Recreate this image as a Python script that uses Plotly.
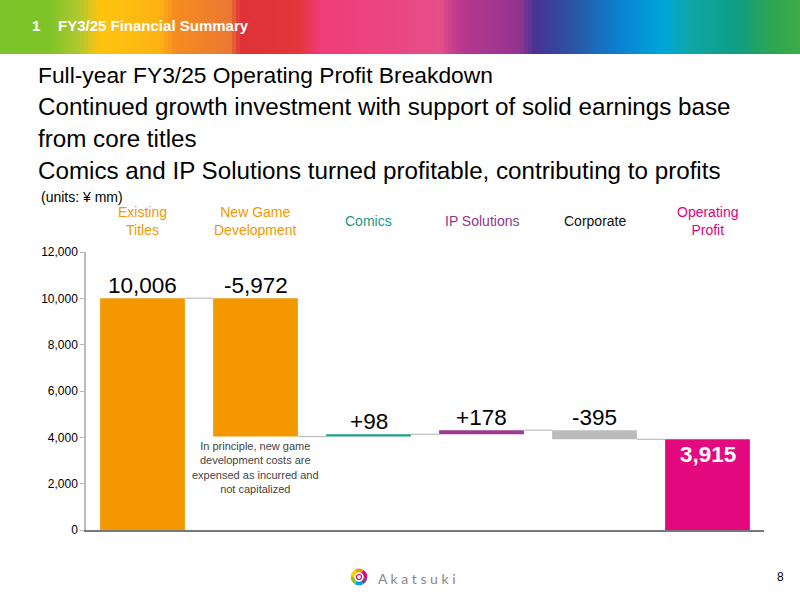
import math
import plotly.graph_objects as go

categories = ["Existing Titles", "New Game Development", "Comics", "IP Solutions", "Corporate", "Operating Profit"]
cat_labels = ["Existing<br>Titles", "New Game<br>Development", "Comics", "IP Solutions", "Corporate", "Operating<br>Profit"]
values = [10006, -5972, 98, 178, -395, 3915]
kinds = ["absolute", "relative", "relative", "relative", "relative", "total"]
value_labels = ["10,006", "-5,972", "+98", "+178", "-395", "3,915"]
bar_colors = ["#F39800", "#F39800", "#1AA08A", "#9B3A94", "#BBBBBB", "#E5097F"]
label_colors = ["#F39800", "#F39800", "#179C83", "#93358E", "#111111", "#E5007F"]
y_ticks = [0, 2000, 4000, 6000, 8000, 10000, 12000]

FONT = "Liberation Sans, Arial, sans-serif"

# compute waterfall bases
bases, levels = [], []
cum = 0
for v, k in zip(values, kinds):
    if k == "absolute":
        b, cum = 0, v
    elif k == "total":
        b = 0
    else:
        b = cum if v >= 0 else cum + v
        cum += v
    bases.append(b)
    levels.append(cum)
bar_heights = [abs(v) if k == "relative" else v for v, k in zip(values, kinds)]

fig = go.Figure()
fig.add_trace(go.Bar(
    x=categories, y=bar_heights, base=bases, width=0.75,
    marker=dict(color=bar_colors, line=dict(width=0)),
    hoverinfo="skip", showlegend=False))

# layout geometry (pixels)
L, R, T, B = 86, 36, 252, 70
W, H = 800 - L - R, 600 - T - B

def px(xp):
    return (xp - L) / W

def py(yp):
    return (600 - B - yp) / H

shapes = []
annotations = []

# connectors
bw = 0.75
for i in range(len(categories) - 1):
    shapes.append(dict(type="line", xref="x", yref="y",
                       x0=i + bw / 2, x1=i + 1 - bw / 2, y0=levels[i], y1=levels[i],
                       line=dict(color="#BDBDBD", width=1.2)))

# value labels
for i, (lab, b, h) in enumerate(zip(value_labels, bases, bar_heights)):
    top = b + h
    if kinds[i] == "total":
        annotations.append(dict(x=categories[i], y=top, xref="x", yref="y", text="<b>" + lab + "</b>",
                                showarrow=False, yanchor="top", yshift=-1,
                                font=dict(family=FONT, size=22.5, color="white")))
    else:
        annotations.append(dict(x=categories[i], y=top, xref="x", yref="y", text=lab,
                                showarrow=False, yanchor="bottom", yshift=-2,
                                font=dict(family=FONT, size=22.5, color="black")))

# category labels above plot
for i, (lab, col) in enumerate(zip(cat_labels, label_colors)):
    annotations.append(dict(x=categories[i], y=py(221), xref="x", yref="paper", text=lab,
                            showarrow=False, yanchor="middle",
                            font=dict(family=FONT, size=14, color=col)))

# note under New Game Development
annotations.append(dict(x=categories[1], y=py(438), xref="x", yref="paper",
                        text="In principle, new game<br>development costs are<br>expensed as incurred and<br>not capitalized",
                        showarrow=False, yanchor="top", align="center",
                        font=dict(family=FONT, size=11, color="#444444")))

# titles
titles = ["Full-year FY3/25 Operating Profit Breakdown",
          "Continued growth investment with support of solid earnings base",
          "from core titles",
          "Comics and IP Solutions turned profitable, contributing to profits"]
title_sizes = [22.8, 24.2, 24.2, 24.2]
for j, t in enumerate(titles):
    annotations.append(dict(x=px(36), y=py(75 + j * 31.7), xref="paper", yref="paper", text=t,
                            showarrow=False, xanchor="left", yanchor="middle",
                            font=dict(family=FONT, size=title_sizes[j], color="black")))
annotations.append(dict(x=px(39), y=py(197), xref="paper", yref="paper", text="(units: ¥ mm)",
                        showarrow=False, xanchor="left", yanchor="middle",
                        font=dict(family=FONT, size=14, color="black")))

# header band gradient
stops = [(0, (124, 196, 42)), (50, (126, 196, 40)), (80, (175, 200, 48)), (100, (255, 196, 14)),
         (160, (252, 178, 20)), (175, (246, 140, 30)), (230, (236, 120, 52)), (240, (222, 50, 56)),
         (300, (226, 54, 60)), (320, (240, 60, 120)), (440, (230, 78, 136)), (460, (186, 56, 142)),
         (520, (146, 52, 144)), (535, (72, 50, 148)), (580, (40, 90, 170)), (620, (10, 130, 210)),
         (665, (0, 166, 218)), (690, (14, 166, 168)), (740, (16, 158, 130)), (770, (44, 166, 84)),
         (800, (60, 172, 72))]

def col_at(x):
    for (x0, c0), (x1, c1) in zip(stops[:-1], stops[1:]):
        if x0 <= x <= x1:
            t = (x - x0) / (x1 - x0) if x1 > x0 else 0
            return "rgb(%d,%d,%d)" % tuple(round(a + (b - a) * t) for a, b in zip(c0, c1))
    return "rgb(60,172,72)"

step = 4
for xs in range(0, 800, step):
    shapes.append(dict(type="rect", xref="paper", yref="paper", layer="below",
                       x0=px(xs), x1=px(xs + step + 0.5), y0=py(54), y1=py(0),
                       fillcolor=col_at(xs + step / 2), line=dict(width=0)))
HFONT = "Liberation Sans Narrow, Liberation Sans"
annotations.append(dict(x=px(30), y=py(26), xref="paper", yref="paper", text="<b>1</b>",
                        showarrow=False, xanchor="left", yanchor="middle",
                        font=dict(family=HFONT, size=15, color="white")))
annotations.append(dict(x=px(56), y=py(26), xref="paper", yref="paper", text="<b>FY3/25 Financial Summary</b>",
                        showarrow=False, xanchor="left", yanchor="middle",
                        font=dict(family=HFONT, size=15, color="white")))

# footer logo
cx, cy, r = 359, 577, 6.5
ring_cols = ["#E4007F", "#F39800", "#FFD100", "#8FC31F", "#00A0E9", "#7C3E97"]
n = len(ring_cols)
for k, c in enumerate(ring_cols):
    a0 = 2 * math.pi * k / n
    a1 = 2 * math.pi * (k + 1) / n
    pts = []
    for s in range(9):
        a = a0 + (a1 - a0) * s / 8
        pts.append((px(cx + r * math.cos(a)), py(cy - r * math.sin(a))))
    path = "M " + " L ".join("%f,%f" % p for p in pts)
    shapes.append(dict(type="path", xref="paper", yref="paper", path=path,
                       line=dict(color=c, width=3.5)))
shapes.append(dict(type="circle", xref="paper", yref="paper",
                   x0=px(cx - 2.5), x1=px(cx + 2.5), y0=py(cy + 2.5), y1=py(cy - 2.5),
                   line=dict(color="#E4007F", width=1.2), fillcolor="white"))
annotations.append(dict(x=px(376), y=py(578), xref="paper", yref="paper",
                        text="A k a t s u k i", showarrow=False, xanchor="left", yanchor="middle",
                        font=dict(family="Lato, Liberation Sans", size=14, color="#888888")))
annotations.append(dict(x=px(786), y=py(577), xref="paper", yref="paper", text="8",
                        showarrow=False, xanchor="right", yanchor="middle",
                        font=dict(family=FONT, size=12, color="black")))

fig.update_layout(
    width=800, height=600,
    margin=dict(l=L, r=R, t=T, b=B, autoexpand=False),
    paper_bgcolor="white", plot_bgcolor="white",
    bargap=0.25,
    shapes=shapes, annotations=annotations,
    xaxis=dict(type="category", range=[-0.5, 5.5], showticklabels=False, ticks="",
               showline=True, linecolor="#777777", linewidth=1.5, showgrid=False, zeroline=False,
               fixedrange=True),
    yaxis=dict(range=[0, 12000], tickvals=y_ticks, ticktext=[f"{v:,}" for v in y_ticks],
               showline=True, linecolor="#BBBBBB", linewidth=1.5, ticks="outside", ticklen=4,
               tickcolor="#BBBBBB", showgrid=False, zeroline=False,
               tickfont=dict(family=FONT, size=12, color="black"), fixedrange=True),
)
fig.write_html("out.html")
